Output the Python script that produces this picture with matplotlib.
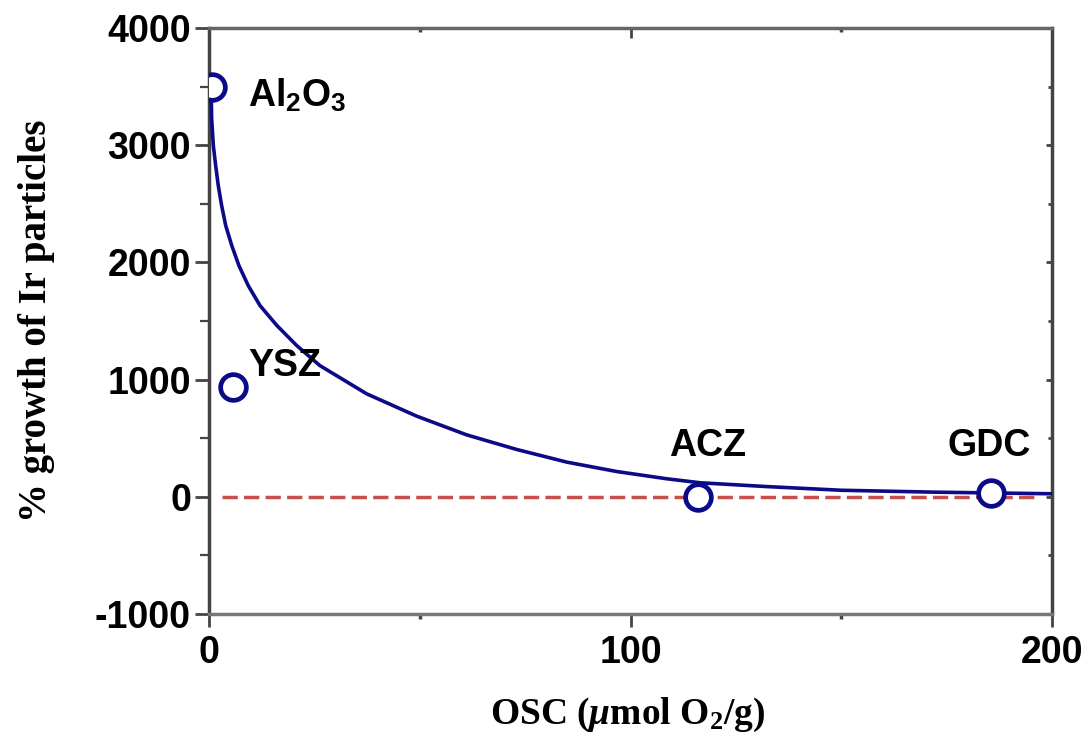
import matplotlib
matplotlib.use("Agg")
import matplotlib.pyplot as plt
from matplotlib.ticker import MultipleLocator

# measured supports (OSC in umol O2/g, % growth of Ir particles)
supports = ["Al$_\\mathsf{2}$O$_\\mathsf{3}$", "YSZ", "ACZ", "GDC"]
osc = [0.6, 5.8, 116, 185.5]
growth = [3500, 940, 0, 30]

# label anchor positions for each support (data coords)
label_x = [9.3, 9.3, 118.4, 185]
label_y = [3420, 1120, 430, 430]
label_ha = ["left", "left", "center", "center"]

# fitted trend line
fit_x = [0.5, 0.63, 1.03, 1.58, 2.2, 3.0, 3.96, 5.4, 7.1, 9.3, 12.1, 16.1, 20.8,
         26.3, 37.4, 49.3, 61.1, 73.0, 84.9, 96.7, 108.6, 116.5, 132, 150, 171.8, 200]
fit_y = [3480, 3225, 2997, 2827, 2656, 2485, 2315, 2144, 1973, 1803, 1632, 1462, 1291,
         1120, 879, 688, 529, 404, 296, 216, 154, 120, 88, 56, 40, 26]

# zero reference line
zero_x = [3, 196]
zero_y = [0, 0]

plt.rcParams["mathtext.fontset"] = "custom"
plt.rcParams["mathtext.rm"] = "Liberation Serif:bold"
plt.rcParams["mathtext.it"] = "Liberation Serif:italic:bold"
plt.rcParams["mathtext.sf"] = "Liberation Sans:bold"
plt.rcParams["axes.unicode_minus"] = False

fig = plt.figure(figsize=(10.84, 7.38), dpi=100)
ax = fig.add_axes([0.1928, 0.168, 0.7777, 0.794])

navy = "#0b0b8a"
ax.plot(fit_x, fit_y, color=navy, lw=2.6, zorder=3, solid_capstyle="round",
        solid_joinstyle="round")
red, = ax.plot(zero_x, zero_y, color="#c8504c", lw=2.5, zorder=2)
red.set_dashes([4.4, 1.8])
ax.plot(osc, growth, "o", ms=18.5, mfc="white", mec=navy, mew=3.4, zorder=4)

for name, x, y, ha in zip(supports, label_x, label_y, label_ha):
    ax.text(x, y, name, ha=ha, va="center", fontsize=27, fontweight="bold",
            family="Liberation Sans")

ax.set_xlim(0, 200)
ax.set_ylim(-1000, 4000)
ax.xaxis.set_major_locator(MultipleLocator(100))
ax.xaxis.set_minor_locator(MultipleLocator(50))
ax.yaxis.set_major_locator(MultipleLocator(1000))
ax.yaxis.set_minor_locator(MultipleLocator(500))

for side in ["left", "right", "top", "bottom"]:
    ax.spines[side].set_linewidth(2.5)
    ax.spines[side].set_color("#444444")
ax.spines["bottom"].set_color("#777777")
ax.spines["top"].set_color("#666666")

tick_col = "#444444"
ax.tick_params(axis="y", which="major", direction="out", length=10, width=2,
               color=tick_col, labelsize=27, pad=3)
ax.tick_params(axis="y", which="minor", direction="out", length=6.5, width=1.6, color=tick_col)
ax.tick_params(axis="x", which="major", direction="out", length=9, width=2,
               color=tick_col, labelsize=27, pad=6)
ax.tick_params(axis="x", which="minor", direction="out", length=3.5, width=2.5, color=tick_col)
for lab in ax.get_xticklabels() + ax.get_yticklabels():
    lab.set_fontweight("bold")
    lab.set_family("Liberation Sans")

# inward ticks on top and right
top = ax.secondary_xaxis("top")
top.xaxis.set_major_locator(MultipleLocator(100))
top.xaxis.set_minor_locator(MultipleLocator(50))
top.tick_params(which="major", direction="in", length=7, width=2, color=tick_col,
                labeltop=False)
top.tick_params(which="minor", direction="in", length=3, width=2.5, color=tick_col)
top.spines["top"].set_visible(False)

right = ax.secondary_yaxis("right")
right.yaxis.set_major_locator(MultipleLocator(1000))
right.yaxis.set_minor_locator(MultipleLocator(500))
right.tick_params(which="major", direction="in", length=4, width=2, color=tick_col,
                  labelright=False)
right.tick_params(which="minor", direction="in", length=2.8, width=2, color=tick_col)
right.spines["right"].set_visible(False)

ax.set_xlabel("OSC ($\\mu$mol O$_2$/g)", family="Liberation Serif", fontweight="bold",
              fontsize=27)
ax.xaxis.set_label_coords(0.497, -0.139)
ax.set_ylabel("% growth of Ir particles", family="Liberation Serif", fontweight="bold",
              fontsize=28)
ax.yaxis.set_label_coords(-0.183, 0.5)

fig.savefig("out.png", dpi=100)
